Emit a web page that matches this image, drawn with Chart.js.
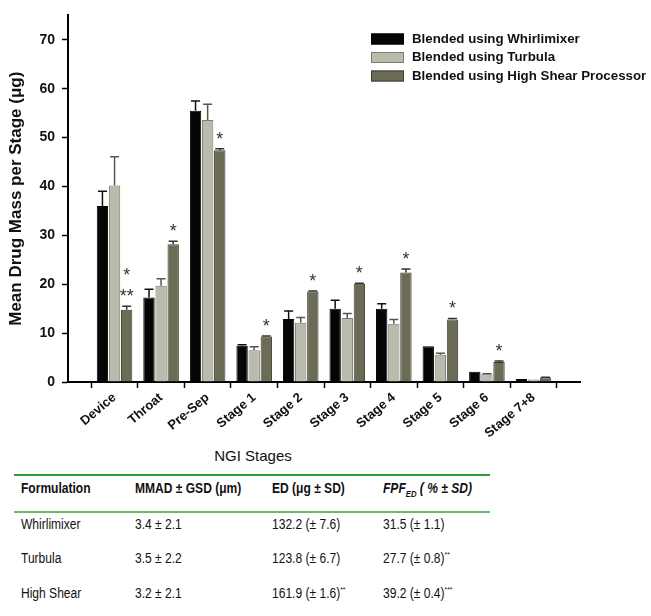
<!DOCTYPE html>
<html>
<head>
<meta charset="utf-8">
<script src="https://cdn.jsdelivr.net/npm/chart.js@4.4.1/dist/chart.umd.min.js"></script>
<style>
  body { margin: 0; background: #fff; }
  #wrap { position: relative; width: 651px; height: 616px; overflow: hidden; font-family: 'Liberation Sans', Arial, sans-serif; color: #111; }
  #chart { position: absolute; left: 0; top: 0; }
  #xTitle { position: absolute; left: 193px; top: 447px; width: 120px; text-align: center; font-size: 15px; }
  #tbl { position: absolute; left: 14px; top: 474px; width: 476px; border-collapse: collapse; table-layout: fixed;
         font-family: 'Liberation Sans', Arial, sans-serif; font-size: 14px; }
  #tbl th, #tbl td { text-align: left; vertical-align: top; padding: 0 0 0 7px; white-space: nowrap; overflow: visible; }
  #tbl thead tr { height: 37px; border-top: 2px solid #2f9a3a; border-bottom: 2px solid #6fb86f; }
  #tbl thead th { padding-top: 4px; font-weight: bold; }
  #tbl tbody tr { height: 35px; }
  #tbl tbody td { padding-top: 3px; }
  #tbl .sq { display: inline-block; transform: scaleX(0.86); transform-origin: 0 0; }
  #tbl sub { font-size: 9px; }
  #tbl sup { font-size: 8px; }
</style>
</head>
<body>
<div id="wrap">
  <canvas id="chart" width="651" height="445"></canvas>
  <div id="xTitle">NGI Stages</div>
  <table id="tbl">
    <colgroup><col style="width:114px"><col style="width:137px"><col style="width:111px"><col style="width:114px"></colgroup>
    <thead><tr id="headRow"></tr></thead>
    <tbody id="bodyRows"></tbody>
  </table>
</div>
<script>
// ---- chart data ----
const categories = ["Device", "Throat", "Pre-Sep", "Stage 1", "Stage 2", "Stage 3", "Stage 4", "Stage 5", "Stage 6", "Stage 7+8"];

const whirlimixer   = [36.0, 17.3, 55.5, 7.4, 12.9, 15.0, 15.0, 7.3, 2.1, 0.6];
const whirlimixerSD = [3.0, 1.7, 2.0, 0.2, 1.6, 1.7, 1.0, 0, 0, 0];
const turbula       = [40.2, 19.7, 53.6, 6.5, 12.1, 13.1, 11.9, 5.6, 1.6, 0.5];
const turbulaSD     = [5.9, 1.4, 3.2, 0.7, 1.1, 0.9, 0.9, 0.3, 0.1, 0];
const highShear     = [14.8, 28.2, 47.4, 9.3, 18.5, 20.1, 22.4, 12.8, 4.1, 0.9];
const highShearSD   = [0.7, 0.6, 0.3, 0.1, 0.1, 0.1, 0.7, 0.2, 0.2, 0.05];
// significance marks above the high shear bars, top line first
const highShearStars = [["*", "**"], ["*"], ["*"], ["*"], ["*"], ["*"], ["*"], ["*"], ["*"], []];

const yTicks = [0, 10, 20, 30, 40, 50, 60, 70];

// ---- table data ----
const tableHeader = ["Formulation", "MMAD \u00b1 GSD (\u03bcm)", "ED (\u03bcg \u00b1 SD)", "<i>FPF<sub>ED</sub> ( % \u00b1 SD)</i>"];
const tableRows = [
  ["Whirlimixer", "3.4 \u00b1 2.1", "132.2 (\u00b1 7.6)", "31.5 (\u00b1 1.1)"],
  ["Turbula", "3.5 \u00b1 2.2", "123.8 (\u00b1 6.7)", "27.7 (\u00b1 0.8)<sup>**</sup>"],
  ["High Shear", "3.2 \u00b1 2.1", "161.9 (\u00b1 1.6)<sup>**</sup>", "39.2 (\u00b1 0.4)<sup>***</sup>"]
];

document.getElementById("headRow").innerHTML = tableHeader.map(h => `<th><span class="sq">${h}</span></th>`).join("");
document.getElementById("bodyRows").innerHTML = tableRows
  .map(r => "<tr>" + r.map(c => `<td><span class="sq">${c}</span></td>`).join("") + "</tr>").join("");

const FONT = "'Liberation Sans', Arial, sans-serif";
Chart.defaults.font.family = FONT;
Chart.defaults.color = "#111";

function toPoints(values) {
  return values.map((v, i) => ({ x: i + 1, y: v }));
}

/* ===== ERROR BARS (upper only) ===== */
const errorBars = {
  id: "errorBars",
  afterDatasetsDraw(chart) {
    const ctx = chart.ctx;
    const y = chart.scales.y;
    chart.data.datasets.forEach((ds, d) => {
      chart.getDatasetMeta(d).data.forEach((bar, i) => {
        const sd = ds.sd[i];
        if (!sd) return;
        const top = y.getPixelForValue(ds.data[i].y + sd);
        ctx.save();
        ctx.strokeStyle = ds.errorColor;
        ctx.lineWidth = 1.5;
        ctx.beginPath();
        ctx.moveTo(bar.x, bar.y);
        ctx.lineTo(bar.x, top);
        ctx.moveTo(bar.x - 4.5, top);
        ctx.lineTo(bar.x + 4.5, top);
        ctx.stroke();
        ctx.restore();
      });
    });
  }
};

/* ===== ASTERISKS ===== */
const stars = {
  id: "stars",
  afterDatasetsDraw(chart) {
    const ctx = chart.ctx;
    const y = chart.scales.y;
    const ds = chart.data.datasets[2];
    chart.getDatasetMeta(2).data.forEach((bar, i) => {
      const lines = highShearStars[i];
      const base = y.getPixelForValue(ds.data[i].y + ds.sd[i]) - 6;
      ctx.save();
      ctx.fillStyle = "#333";
      ctx.font = "18px " + FONT;
      ctx.textAlign = "center";
      ctx.textBaseline = "top";
      for (let k = lines.length - 1, n = 0; k >= 0; k--, n++) {
        ctx.fillText(lines[k], bar.x, base - 12 - n * 21);
      }
      ctx.restore();
    });
  }
};

/* ===== LEGEND (inside plot, top right) ===== */
const boxLegend = {
  id: "boxLegend",
  afterDraw(chart) {
    const ctx = chart.ctx;
    ctx.save();
    ctx.font = "bold 13.3px " + FONT;
    ctx.textBaseline = "middle";
    chart.data.datasets.forEach((ds, i) => {
      const cy = 39 + i * 18.5;
      ctx.fillStyle = ds.backgroundColor;
      ctx.fillRect(371, cy - 5.5, 33, 11);
      ctx.strokeStyle = ds.borderColor;
      ctx.lineWidth = 1;
      ctx.strokeRect(371.5, cy - 5, 32, 10);
      ctx.fillStyle = "#111";
      ctx.fillText(ds.label, 412, cy);
    });
    ctx.restore();
  }
};

new Chart(document.getElementById("chart"), {
  type: "bar",
  data: {
    datasets: [
      { label: "Blended using Whirlimixer", data: toPoints(whirlimixer), sd: whirlimixerSD,
        backgroundColor: "#050505", borderColor: "#000", errorColor: "#111" },
      { label: "Blended using Turbula", data: toPoints(turbula), sd: turbulaSD,
        backgroundColor: "#b9bbad", borderColor: "#7c7e72", errorColor: "#555" },
      { label: "Blended using High Shear Processor", data: toPoints(highShear), sd: highShearSD,
        backgroundColor: "#6c6c56", borderColor: "#3e3e30", errorColor: "#333" }
    ]
  },
  options: {
    responsive: false,
    animation: false,
    devicePixelRatio: 1,
    layout: { padding: { top: 14, right: 71, left: 0, bottom: 0 } },
    datasets: { bar: { borderWidth: 1, categoryPercentage: 0.78, barPercentage: 0.94 } },
    plugins: { legend: { display: false }, tooltip: { enabled: false } },
    scales: {
      x: {
        type: "linear",
        min: 0,
        max: categories.length + 1,
        offset: false,
        afterBuildTicks(axis) { axis.ticks = categories.map((c, i) => ({ value: i + 1 })); },
        afterFit(scale) { scale.height = 63; },
        ticks: {
          autoSkip: false,
          minRotation: 40,
          maxRotation: 40,
          padding: 2,
          font: { size: 13, weight: "bold" },
          callback: v => categories[v - 1] || ""
        },
        grid: { drawOnChartArea: false, drawTicks: true, tickLength: 6, color: "#000", tickWidth: 1.5 },
        border: { color: "#000", width: 2 }
      },
      y: {
        min: 0,
        max: 75,
        afterBuildTicks(axis) { axis.ticks = yTicks.map(v => ({ value: v })); },
        afterFit(scale) { scale.width = 68; },
        ticks: { font: { size: 14, weight: "bold" }, padding: 7 },
        grid: { drawOnChartArea: false, drawTicks: true, tickLength: 6, color: "#000", tickWidth: 1.5 },
        border: { color: "#000", width: 2 },
        title: {
          display: true,
          text: "Mean Drug Mass per Stage (\u03bcg)",
          font: { size: 17, weight: "bold" },
          padding: { top: 6, bottom: 0 }
        }
      }
    }
  },
  plugins: [errorBars, stars, boxLegend]
});
</script>
</body>
</html>
